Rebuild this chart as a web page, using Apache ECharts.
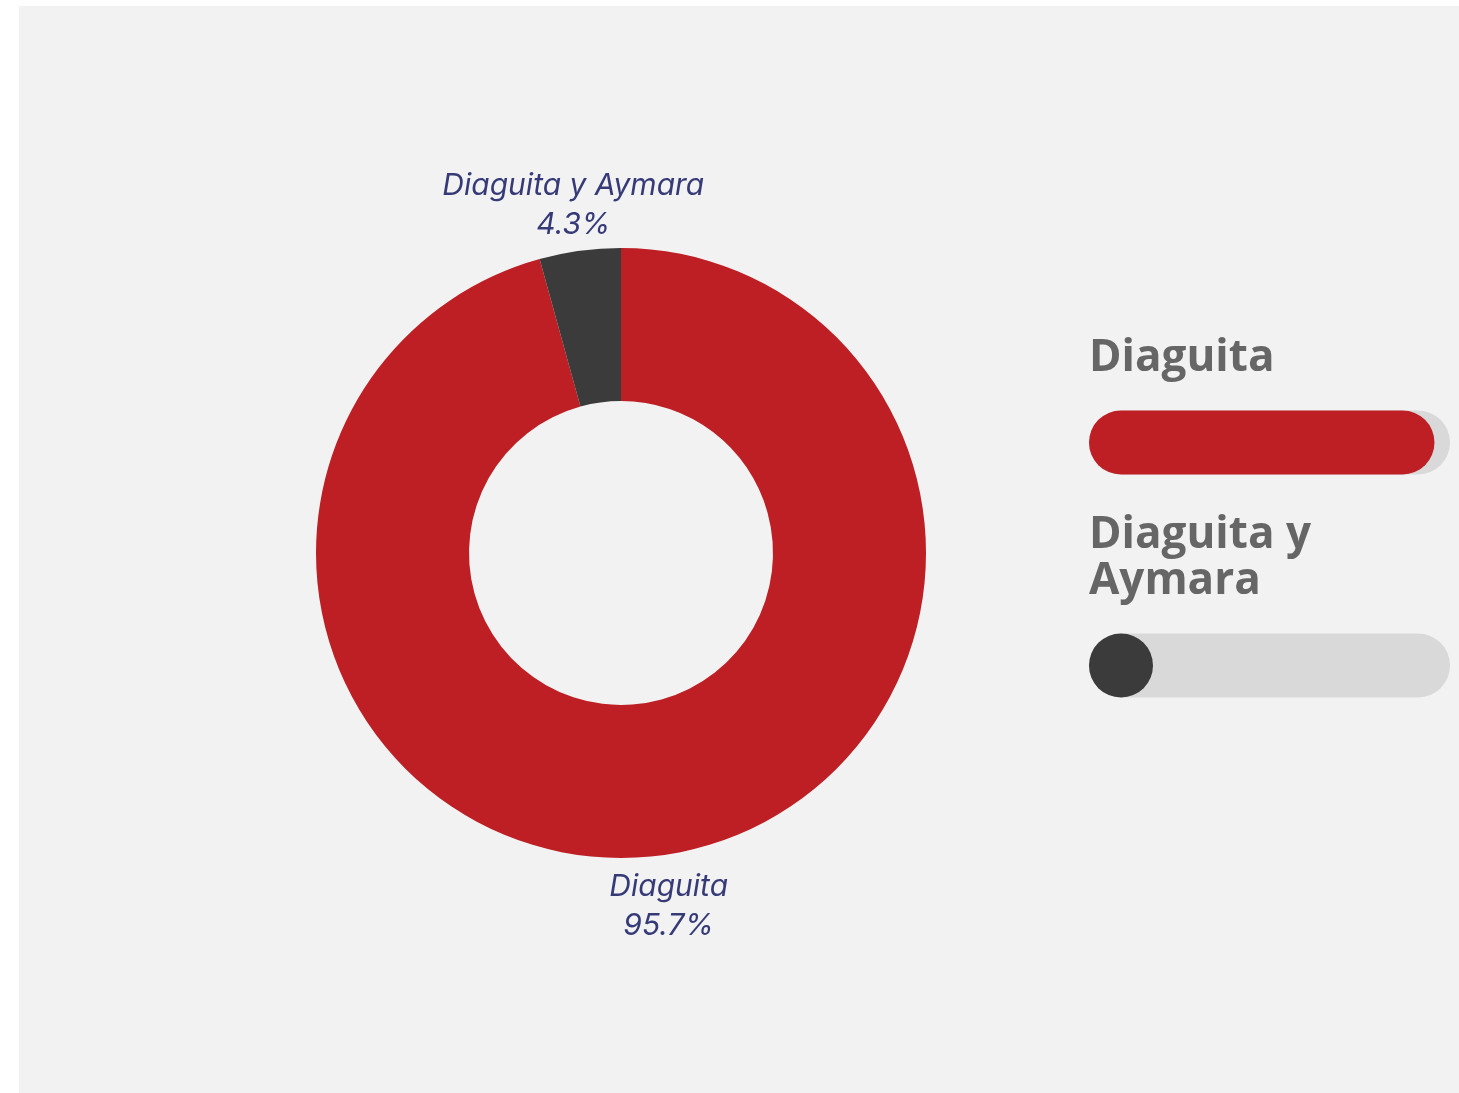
<!DOCTYPE html>
<html>
<head>
<meta charset="utf-8">
<script src="https://cdn.jsdelivr.net/npm/echarts@6/dist/echarts.min.js"></script>
<style>
  html, body { margin: 0; padding: 0; background: #ffffff; width: 1459px; height: 1093px; overflow: hidden; }
  #panel { position: absolute; left: 19px; top: 6px; width: 1440px; height: 1087px; background: #f2f2f2; }
  #chart { position: absolute; left: 0; top: 0; width: 1459px; height: 1093px; }
</style>
</head>
<body>
<div id="panel"></div>
<div id="chart"></div>
<script>
const categories = ['Diaguita', 'Diaguita y Aymara'];
const shares = [95.7, 4.3];
const colors = ['#bd1f24', '#3b3b3b'];

const pieData = categories.map((c, i) => ({ name: c, value: shares[i], itemStyle: { color: colors[i] } }));
const labelData = categories.map((c, i) => ({ name: c, value: shares[i] }));
const barData = categories.map((c, i) => [shares[i], i]);

const chart = echarts.init(document.getElementById('chart'));
chart.setOption({
  backgroundColor: 'transparent',
  animation: false,
  grid: { left: 1089, top: 331, width: 361, height: 446, containLabel: false },
  xAxis: { type: 'value', min: 0, max: 100, show: false },
  yAxis: { type: 'category', data: categories, inverse: true, show: false },
  series: [
    {
      type: 'pie',
      center: [621, 553],
      radius: [152, 305],
      startAngle: 90,
      clockwise: true,
      silent: true,
      label: { show: false },
      labelLine: { show: false },
      data: pieData
    },
    {
      type: 'pie',
      center: [621, 553],
      radius: [330, 372],
      startAngle: 90,
      clockwise: true,
      silent: true,
      itemStyle: { color: 'rgba(0,0,0,0)' },
      label: {
        show: true,
        position: 'inside',
        formatter: '{b}\n{c}%',
        fontFamily: 'Inter',
        fontStyle: 'italic',
        fontSize: 30,
        lineHeight: 39,
        color: '#363b78',
        align: 'center',
        offset: [0, 3]
      },
      labelLine: { show: false },
      data: labelData
    },
    {
      type: 'custom',
      silent: true,
      encode: { x: 0, y: 1 },
      data: barData,
      renderItem: function (params, api) {
        const v = api.value(0);
        const idx = api.value(1);
        const start = api.coord([0, idx]);
        const end = api.coord([v, idx]);
        const full = api.coord([100, idx]);
        const h = 64;
        const w = Math.max(end[0] - start[0], h);
        return {
          type: 'group',
          children: [
            { type: 'rect', shape: { x: start[0], y: start[1] - h / 2, width: full[0] - start[0], height: h, r: h / 2 }, style: { fill: '#d9d9d9' } },
            { type: 'rect', shape: { x: start[0], y: start[1] - h / 2, width: w, height: h, r: h / 2 }, style: { fill: colors[params.dataIndex] } },
            {
              type: 'text',
              x: start[0],
              y: start[1] - h / 2 - 29,
              style: {
                text: categories[params.dataIndex],
                fill: '#666666',
                fontFamily: 'Open Sans',
                fontWeight: 'bold',
                fontSize: 44,
                lineHeight: 46,
                align: 'left',
                verticalAlign: 'bottom',
                width: 250,
                overflow: 'break'
              }
            }
          ]
        };
      }
    }
  ]
});
</script>
</body>
</html>
